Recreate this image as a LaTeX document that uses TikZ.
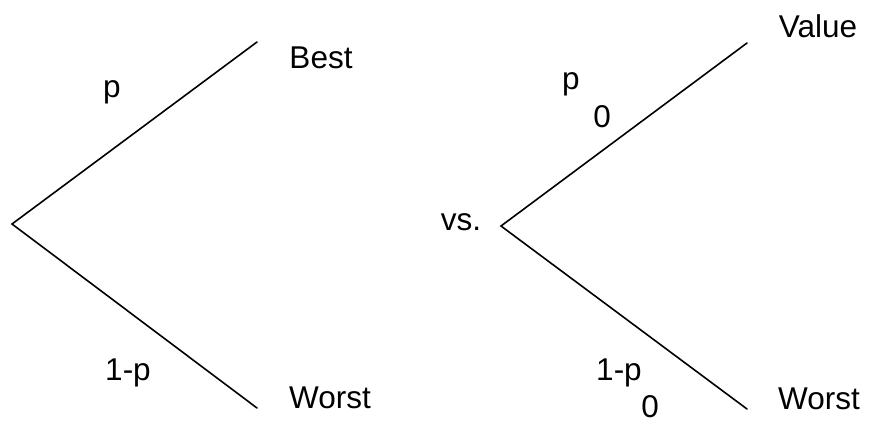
\documentclass[tikz,border=0pt]{standalone}
\usepackage{fontspec}
\setmainfont{Liberation Sans}
\begin{document}
\begin{tikzpicture}[x=1pt,y=-1pt,
  branch/.style={line width=1.6pt, line cap=round, line join=miter},
  lbl/.style={inner sep=0pt, anchor=base, font=\fontsize{31.5}{36}\selectfont}]
\useasboundingbox (0,0) rectangle (869,421);
% left tree
\coordinate (L0) at (12,224);
\coordinate (L1) at (257,42);
\coordinate (L2) at (257,408);
\draw[branch] (L1) -- (L0) -- (L2);
\node[lbl] (best) at (321,68) {Best};
\node[lbl] (pl) at (112,97) {p};
\node[lbl] (qpl) at (128,380) {1-p};
\node[lbl] (worstl) at (330,408) {Worst};
% right tree
\coordinate (R0) at (501,226);
\coordinate (R1) at (747,43);
\coordinate (R2) at (747,409);
\draw[branch] (R1) -- (R0) -- (R2);
\node[lbl] (vs) at (461,230) {vs.};
\node[lbl] (value) at (818,37) {Value};
\node[lbl] (pr) at (571,89) {p};
\node[lbl] (pr0) at (602,127) {0};
\node[lbl] (qpr) at (619,380) {1-p};
\node[lbl] (qpr0) at (650,417) {0};
\node[lbl] (worstr) at (819,409) {Worst};
\end{tikzpicture}
\end{document}
